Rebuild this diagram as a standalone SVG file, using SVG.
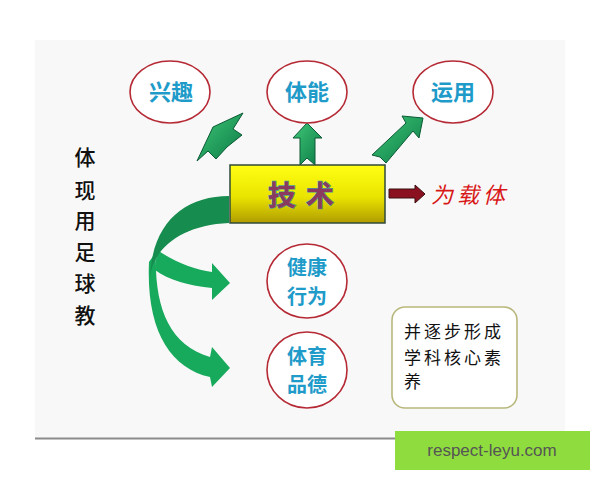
<svg xmlns="http://www.w3.org/2000/svg" width="600" height="480" viewBox="0 0 600 480">
<defs>
<linearGradient id="yel" x1="0" y1="0" x2="0" y2="1">
<stop offset="0" stop-color="#ffff14"/>
<stop offset="0.55" stop-color="#eae400"/>
<stop offset="1" stop-color="#b09c00"/>
</linearGradient>
<linearGradient id="grn" x1="0" y1="0" x2="1" y2="1">
<stop offset="0" stop-color="#40c878"/>
<stop offset="1" stop-color="#0b7a45"/>
</linearGradient>
<style>
.ell{fill:#ffffff;stroke:#b52a35;stroke-width:1.6}
.lbl{font-family:"Noto Sans CJK SC","Noto Sans",sans-serif;font-weight:bold;font-size:22px;fill:#1e9bc9;text-anchor:middle}
.lbl2{font-family:"Noto Sans CJK SC","Noto Sans",sans-serif;font-weight:bold;font-size:20px;fill:#1e9bc9;text-anchor:middle}
.cal{font-family:"Noto Sans CJK SC","Noto Sans",sans-serif;font-size:21px;font-weight:500;fill:#111;text-anchor:middle}
.note{font-family:"Noto Sans CJK SC","Noto Sans",sans-serif;font-size:17px;fill:#111;letter-spacing:3px}
.uparr{fill:url(#grn);stroke:#0a5a35;stroke-width:1}
</style>
</defs>
<rect x="0" y="0" width="600" height="480" fill="#ffffff"/>
<rect x="35" y="40" width="530" height="399" fill="#f8f8f8"/>
<line x1="35" y1="438.5" x2="565" y2="438.5" stroke="#8a8a8a" stroke-width="2"/>

<g id="left-text">
<text class="cal" x="85" y="165">体</text>
<text class="cal" x="85" y="198">现</text>
<text class="cal" x="85" y="228">用</text>
<text class="cal" x="85" y="260">足</text>
<text class="cal" x="85" y="291">球</text>
<text class="cal" x="85" y="323">教</text>
</g>

<g id="connectors">
<polygon class="uparr" points="243,113 233,129 242,135 227,147 216,159 208,151 197,161 213,127"/>
<polygon class="uparr" points="307,123 322,138 315,138 315,165 307,158 300,165 300,138 293,138"/>
<polygon class="uparr" points="423,118 419,138 413,131 386,163 380,157 372,155 406,123 402,116"/>
<path d="M156,252 C154,305 168,345 210,357 L212,347 L230,368 L212,387 L210,377 C170,368 146,330 149,262 Z" fill="#17aa5c"/>
<path d="M157,250 C175,262 195,270 212,272 L212,263 L230,283 L212,300 L212,288 C190,286 168,280 155,270 Z" fill="#17aa5c"/>
<path d="M229,196 C185,196 152,222 150,278 C152,250 180,225 229,223 Z" fill="#168c4f"/>
<polygon points="389,189 415,189 415,185 425,194 415,203 415,198 389,198" fill="#8b1020" stroke="#3a1010" stroke-width="1"/>
</g>

<g id="node-jishu">
<rect x="230" y="165" width="155" height="58" fill="url(#yel)" stroke="#2f4a3a" stroke-width="1.5"/>
<text x="306" y="206" font-family="'Noto Sans CJK SC',sans-serif" font-weight="bold" font-size="28" fill="#8a3a5e" stroke="#4a9a9a" stroke-width="1.2" paint-order="stroke" text-anchor="middle" letter-spacing="10">技术</text>
</g>

<g id="node-zaiti">
<text x="431" y="203" font-family="'Noto Sans CJK SC',sans-serif" font-size="22" font-style="italic" fill="#d81818" letter-spacing="4">为载体</text>
</g>

<g id="node-xingqu">
<ellipse class="ell" cx="170" cy="92" rx="40" ry="31"/>
<text class="lbl" x="171" y="100">兴趣</text>
</g>
<g id="node-tineng">
<ellipse class="ell" cx="307" cy="92" rx="40" ry="31"/>
<text class="lbl" x="307" y="100">体能</text>
</g>
<g id="node-yunyong">
<ellipse class="ell" cx="453" cy="92" rx="40" ry="31"/>
<text class="lbl" x="453" y="100">运用</text>
</g>
<g id="node-jiankang">
<ellipse class="ell" cx="307" cy="281" rx="40" ry="37"/>
<text class="lbl2" x="307" y="275">健康</text>
<text class="lbl2" x="307" y="304">行为</text>
</g>
<g id="node-tiyu">
<ellipse class="ell" cx="307" cy="370" rx="40" ry="38"/>
<text class="lbl2" x="307" y="364">体育</text>
<text class="lbl2" x="307" y="392">品德</text>
</g>

<g id="node-note">
<rect x="392" y="307" width="125" height="101" rx="13" fill="#ffffff" stroke="#b8b87c" stroke-width="1.6"/>
<text class="note" x="404" y="338">并逐步形成</text>
<text class="note" x="404" y="364">学科核心素</text>
<text class="note" x="404" y="388">养</text>
</g>

<g id="watermark">
<rect x="395" y="431" width="195" height="39" fill="#8fdc3e"/>
<text x="492" y="456" font-family="'Liberation Sans',Arial,sans-serif" font-size="17" fill="#555555" text-anchor="middle">respect-leyu.com</text>
</g>
</svg>
